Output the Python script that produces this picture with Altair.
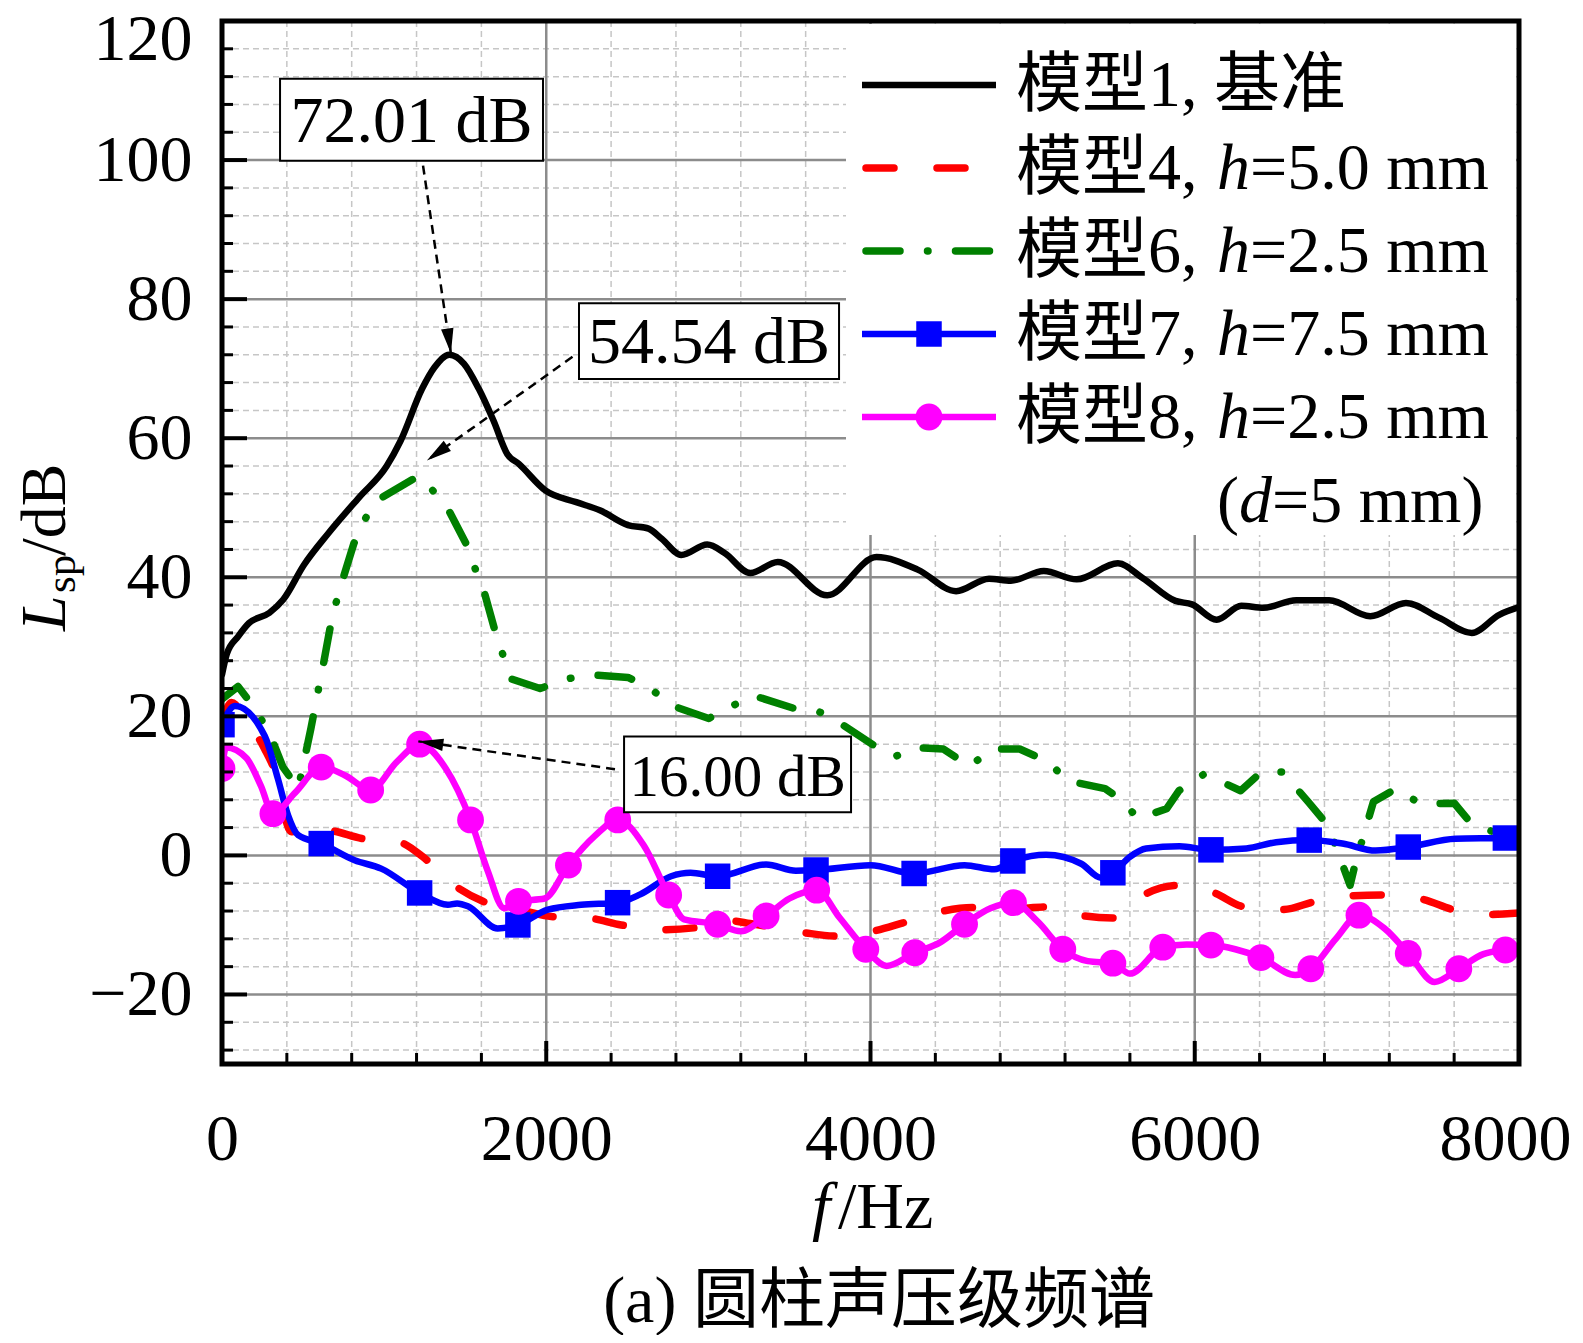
"""Cylinder sound pressure level spectra, rebuilt with Altair."""

import math

import altair as alt
import pandas as pd

# ---- values ---------------------------------------------------------------
# model 1 (baseline), black solid
freq_m1 = [0, 30, 100, 166, 293, 378, 506, 655, 846, 1016,
           1101, 1234, 1311, 1402, 1493, 1584, 1675, 1760, 1831, 1994,
           2185, 2334, 2504, 2631, 2714, 2833, 2993, 3100, 3259, 3428,
           3733, 4037, 4291, 4528, 4731, 4866, 5069, 5272, 5526, 5678,
           5881, 5983, 6135, 6287, 6423, 6626, 6829, 7083, 7303, 7506,
           7709, 7878, 8000]
spl_m1 = [26.0, 29.0, 31.5, 33.4, 34.9, 36.8, 41.8, 46.3, 51.5, 56.0,
          59.6, 67.1, 70.2, 72.0, 70.7, 67.1, 62.5, 57.7, 56.3, 52.5,
          50.8, 49.6, 47.5, 47.0, 45.5, 43.2, 44.7, 43.5, 40.6, 42.2,
          37.4, 42.9, 41.1, 38.0, 39.8, 39.5, 40.9, 39.7, 42.0, 39.9,
          36.6, 36.1, 33.9, 35.9, 35.6, 36.7, 36.7, 34.4, 36.3, 34.2,
          32.0, 34.6, 35.7]

# model 4, red dashed
freq_m4 = [0, 58, 150, 263, 325, 427, 520, 664, 869, 1081,
           1239, 1404, 1609, 1886, 2030, 2256, 2462, 2698, 2919, 3134,
           3257, 3586, 3791, 4016, 4201, 4447, 4632, 4850, 5100, 5290,
           5495, 5700, 5906, 6111, 6306, 6541, 6747, 6972, 7198, 7403,
           7609, 7834, 8000]
spl_m4 = [19.0, 22.0, 19.5, 15.3, 12.2, 3.4, 3.8, 3.6, 2.4, 2.0,
          -0.2, -3.8, -6.6, -8.1, -8.8, -9.0, -10.0, -10.7, -10.4, -9.4,
          -9.8, -11.1, -11.6, -10.9, -9.7, -8.0, -7.5, -7.7, -7.4, -8.6,
          -9.0, -5.5, -4.3, -5.3, -7.4, -7.8, -6.6, -5.8, -5.7, -6.3,
          -7.9, -8.5, -8.3]

# model 6, green dash-dot
freq_m6 = [0, 99, 201, 294, 376, 470, 548, 591, 623, 665,
           697, 750, 814, 878, 952, 1186, 1228, 1292, 1399, 1515,
           1568, 1622, 1685, 1739, 1781, 1962, 2110, 2270, 2504, 2642,
           2780, 3003, 3131, 3277, 3534, 3688, 3807, 4016, 4150, 4280,
           4450, 4610, 4750, 4920, 5103, 5206, 5447, 5553, 5649, 5826,
           5903, 6058, 6283, 6411, 6540, 6700, 6797, 6861, 6958, 6990,
           7102, 7241, 7392, 7601, 7697, 7900, 8000]
spl_m6 = [22.5, 24.3, 21.2, 17.5, 12.7, 9.6, 18.2, 23.4, 27.2, 32.5,
          35.8, 40.1, 44.9, 48.2, 51.0, 54.2, 54.5, 52.7, 49.6, 44.4,
          40.8, 37.5, 32.2, 28.4, 25.4, 24.0, 25.3, 26.0, 25.6, 24.0,
          21.5, 19.7, 21.3, 23.0, 21.1, 20.6, 19.1, 15.9, 14.2, 15.5,
          15.3, 12.8, 15.3, 15.3, 13.4, 10.8, 9.6, 7.9, 5.3, 6.7,
          9.3, 11.7, 9.3, 12.0, 12.0, 7.7, 5.0, 1.9, -4.3, -1.2,
          7.7, 9.6, 7.4, 7.5, 4.8, 2.8, 2.3]

# model 7, blue with squares
freq_m7 = [0, 80, 263, 345, 407, 470, 612, 818, 982, 1219,
           1393, 1450, 1517, 1700, 1825, 2010, 2215, 2440, 2580, 2770,
           2890, 3057, 3356, 3540, 3664, 4000, 4269, 4580, 4765, 4878,
           5083, 5300, 5420, 5495, 5600, 5700, 5906, 6100, 6318, 6502,
           6706, 6911, 7116, 7317, 7609, 7916, 8000]
spl_m7 = [18.8, 21.5, 17.2, 11.0, 5.8, 2.9, 1.7, -0.7, -1.9, -5.4,
          -7.1, -6.9, -7.3, -10.5, -10.0, -7.8, -7.1, -6.8, -5.6, -3.0,
          -2.5, -3.0, -1.3, -2.2, -2.1, -1.4, -2.6, -1.4, -2.0, -0.8,
          0.1, -1.2, -3.2, -2.5, -0.2, 1.0, 1.3, 0.8, 1.0, 1.9,
          2.2, 1.7, 0.7, 1.2, 2.4, 2.5, 2.6]
mark_f_m7 = [0, 612, 1219, 1825, 2440, 3057, 3664, 4269, 4878, 5495,
             6100, 6706, 7317, 7916]
mark_l_m7 = [18.8, 1.7, -5.4, -10.0, -6.8, -3.0, -2.1, -2.6, -0.8, -2.5,
             0.8, 2.2, 1.2, 2.5]

# model 8, magenta with circles
freq_m8 = [0, 25, 150, 240, 314, 450, 612, 760, 917, 1080,
           1219, 1380, 1533, 1640, 1740, 1829, 1990, 2137, 2300, 2441,
           2600, 2755, 2850, 3057, 3200, 3356, 3500, 3668, 3811, 3971,
           4100, 4273, 4430, 4580, 4740, 4882, 5030, 5186, 5340, 5495,
           5600, 5803, 5950, 6100, 6250, 6408, 6620, 6716, 6870, 7013,
           7170, 7317, 7480, 7629, 7780, 7916, 8000]
spl_m8 = [12.5, 15.5, 14.0, 10.0, 6.0, 9.0, 12.7, 11.5, 9.4, 13.5,
          16.0, 12.5, 5.1, -2.3, -7.6, -6.6, -6.2, -1.4, 2.8, 5.1,
          1.5, -5.7, -9.2, -9.9, -10.9, -8.7, -6.2, -5.0, -9.0, -13.5,
          -15.9, -14.0, -12.5, -9.9, -7.6, -6.8, -9.5, -13.5, -15.2, -15.5,
          -17.0, -13.2, -12.8, -12.9, -13.5, -14.7, -17.2, -16.3, -12.0, -8.6,
          -10.5, -14.1, -18.2, -16.3, -14.2, -13.6, -13.4]
mark_f_m8 = [0, 314, 612, 917, 1219, 1533, 1829, 2137, 2441, 2755,
             3057, 3356, 3668, 3971, 4273, 4580, 4882, 5186, 5495, 5803,
             6100, 6408, 6716, 7013, 7317, 7629, 7916]
mark_l_m8 = [12.5, 6.0, 12.7, 9.4, 16.0, 5.1, -6.6, -1.4, 5.1, -5.7,
             -9.9, -8.7, -5.0, -13.5, -14.0, -9.9, -6.8, -13.5, -15.5, -13.2,
             -12.9, -14.7, -16.3, -8.6, -14.1, -16.3, -13.6]

# tick labels / text
x_ticks = [0, 2000, 4000, 6000, 8000]
y_ticks = [-20, 0, 20, 40, 60, 80, 100, 120]
legend_prefix = ['模型1, 基准', '模型4,', '模型6,', '模型7,', '模型8,']
legend_suffix = ['', '=5.0 mm', '=2.5 mm', '=7.5 mm', '=2.5 mm']
peak_labels = ['72.01 dB', '54.54 dB', '16.00 dB']
caption = '(a) 圆柱声压级频谱'

# ---- layout ---------------------------------------------------------------
W, H = 1297, 1043
F_DOM = [0, 8000]
L_DOM = [-30, 120]
SERIF = 'Liberation Serif, Noto Sans CJK SC'
FS = 66

xs = alt.Scale(domain=F_DOM, nice=False, zero=False)
ys = alt.Scale(domain=L_DOM, nice=False, zero=False)

# the end labels are nudged inwards so they stay inside the page
x_axis = alt.Axis(values=x_ticks, format='d', title=None, grid=False,
                  ticks=False, tickSize=0, domain=False, labelFont=SERIF,
                  labelFontSize=FS, labelColor='black', labelPadding=43,
                  labelFlush=False, labelOverlap=False,
                  labelOffset={'condition': {'test': 'datum.value === 8000',
                                             'value': -14}, 'value': 0})
y_axis = alt.Axis(values=y_ticks, format='d', title=None, grid=False,
                  ticks=False, tickSize=0, domain=False, labelFont=SERIF,
                  labelFontSize=FS, labelColor='black', labelPadding=30,
                  labelFlush=False, labelOverlap=False,
                  labelOffset={'condition': {'test': 'datum.value === 120',
                                             'value': 18}, 'value': 0})

# callout boxes (f1, f2, L1, L2), arrows (start f, L -> tip f, L), font size
callout_box = [(358, 1980, 99.9, 111.7),
               (2202, 3806, 68.5, 79.4),
               (2480, 3880, 6.2, 17.1)]
callout_arrow = [(1240, 99.2, 1412, 72.2),
                 (2162, 71.7, 1264, 56.8),
                 (2424, 12.4, 1211, 16.4)]
callout_size = [66, 66, 59]
ARROW = 'M0,0L-0.5,2L0.5,2Z'


def one_row():
    return pd.DataFrame({'k': [0]})


def fx(field='f', **kw):
    return alt.X(f'{field}:Q', scale=xs, axis=x_axis, **kw)


def fy(field='L', **kw):
    return alt.Y(f'{field}:Q', scale=ys, axis=y_axis, **kw)


def label(txt, x, y, size=FS, style='normal', align='left', angle=0):
    return alt.Chart(one_row()).mark_text(
        text=txt, font=SERIF, fontSize=size, fontStyle=style, color='black',
        align=align, baseline='alphabetic', angle=angle
    ).encode(x=alt.value(x), y=alt.value(y))


def series(f, L, color, width, dash=None, interp='monotone'):
    kw = dict(color=color, strokeWidth=width, interpolate=interp, clip=True,
              strokeCap='round', strokeJoin='round')
    if dash:
        kw['strokeDash'] = dash
    df = pd.DataFrame({'f': f, 'L': L})
    return alt.Chart(df).mark_line(**kw).encode(x=fx(), y=fy())


def markers(f, L, color, shape, size):
    df = pd.DataFrame({'f': f, 'L': L})
    return alt.Chart(df).mark_point(
        shape=shape, filled=True, size=size, color=color, opacity=1,
        strokeWidth=0, clip=True
    ).encode(x=fx(), y=fy())


minor_f = [v for v in range(400, 8000, 400) if v % 2000]
minor_l = [v for v in range(-28, 120, 4) if v % 20]
major_f = [2000, 4000, 6000]
major_l = [-20, 0, 20, 40, 60, 80, 100]

grid_minor_x = alt.Chart(pd.DataFrame({'f': minor_f})).mark_rule(
    color='#c6c6c6', strokeWidth=1.5, strokeDash=[6, 4]).encode(x=fx())
grid_minor_y = alt.Chart(pd.DataFrame({'L': minor_l})).mark_rule(
    color='#c6c6c6', strokeWidth=1.5, strokeDash=[6, 4]).encode(y=fy())
grid_major_x = alt.Chart(pd.DataFrame({'f': major_f})).mark_rule(
    color='#8c8c8c', strokeWidth=2.5).encode(x=fx())
grid_major_y = alt.Chart(pd.DataFrame({'L': major_l})).mark_rule(
    color='#8c8c8c', strokeWidth=2.5).encode(y=fy())

legend_bg = alt.Chart(one_row()).mark_rect(fill='white').encode(
    x=alt.value(624), x2=alt.value(W - 3), y=alt.value(3), y2=alt.value(514))

# inward ticks
tick_y_major = alt.Chart(pd.DataFrame({'L': major_l})).mark_rule(
    color='black', strokeWidth=4).encode(y=fy(), x=alt.value(0), x2=alt.value(25))
tick_y_minor = alt.Chart(pd.DataFrame({'L': minor_l})).mark_rule(
    color='black', strokeWidth=3).encode(y=fy(), x=alt.value(0), x2=alt.value(11))
tick_x_major = alt.Chart(pd.DataFrame({'f': major_f})).mark_rule(
    color='black', strokeWidth=4).encode(x=fx(), y=alt.value(H), y2=alt.value(H - 23))
tick_x_minor = alt.Chart(pd.DataFrame({'f': minor_f})).mark_rule(
    color='black', strokeWidth=3).encode(x=fx(), y=alt.value(H), y2=alt.value(H - 11))

frame = alt.Chart(one_row()).mark_rect(
    fillOpacity=0, stroke='black', strokeWidth=5).encode(
    x=alt.value(0), x2=alt.value(W), y=alt.value(0), y2=alt.value(H))

# callouts
px_f = W / (F_DOM[1] - F_DOM[0])
px_l = H / (L_DOM[1] - L_DOM[0])
rows = []
for text, box, arr, size in zip(peak_labels, callout_box, callout_arrow,
                                callout_size):
    fs, ls, ft, lt = arr
    sx = (ft - fs) * px_f
    sy = -(lt - ls) * px_l
    ang = math.degrees(math.atan2(sx, -sy)) % 360
    rows.append(dict(label=text, size=size,
                     f1=box[0], f2=box[1], L1=box[2], L2=box[3],
                     fc=(box[0] + box[1]) / 2, lc=(box[2] + box[3]) / 2,
                     fs=fs, ls=ls, ft=ft, lt=lt, ang=ang))
ann = pd.DataFrame(rows)

arrow_line = alt.Chart(ann).mark_rule(
    color='black', strokeWidth=2.5, strokeDash=[9, 6]).encode(
    x=fx('fs'), y=fy('ls'), x2='ft:Q', y2='lt:Q')
arrow_head = alt.Chart(ann).mark_point(
    shape=ARROW, filled=True, size=625, color='black', opacity=1,
    strokeWidth=0).encode(
    x=fx('ft'), y=fy('lt'), angle=alt.Angle('ang:Q', scale=None))
box = alt.Chart(ann).mark_rect(
    fill='white', stroke='black', strokeWidth=2).encode(
    x=fx('f1'), x2='f2:Q', y=fy('L1'), y2='L2:Q')
box_text = alt.Chart(ann).mark_text(
    font=SERIF, color='black', align='center',
    baseline='alphabetic', dy=22).encode(
    x=fx('fc'), y=fy('lc'), text='label:N',
    size=alt.Size('size:Q', scale=None, legend=None))

# legend
row_y = [64, 147, 230, 313, 396]
LX0, LX1, LXM, TX, HX, SX = 640, 774, 707, 794, 995, 1028
leg = []
leg.append(alt.Chart(one_row()).mark_rule(color='black', strokeWidth=6.5).encode(
    x=alt.value(LX0), x2=alt.value(LX1), y=alt.value(row_y[0])))
leg.append(alt.Chart(one_row()).mark_rule(
    color='#ff0000', strokeWidth=7.5, strokeDash=[28, 43], strokeCap='round').encode(
    x=alt.value(LX0 + 4), x2=alt.value(LX1), y=alt.value(row_y[1])))
leg.append(alt.Chart(one_row()).mark_rule(
    color='#008000', strokeWidth=7.5, strokeDash=[34, 27.5, 0.5, 27.5],
    strokeCap='round').encode(
    x=alt.value(LX0 + 4), x2=alt.value(LX1 - 3), y=alt.value(row_y[2])))
leg.append(alt.Chart(one_row()).mark_rule(color='#0000ff', strokeWidth=6.5).encode(
    x=alt.value(LX0), x2=alt.value(LX1), y=alt.value(row_y[3])))
leg.append(alt.Chart(one_row()).mark_point(
    shape='square', filled=True, size=650, color='#0000ff', opacity=1).encode(
    x=alt.value(LXM), y=alt.value(row_y[3])))
leg.append(alt.Chart(one_row()).mark_rule(color='#ff00ff', strokeWidth=6.5).encode(
    x=alt.value(LX0), x2=alt.value(LX1), y=alt.value(row_y[4])))
leg.append(alt.Chart(one_row()).mark_point(
    shape='circle', filled=True, size=720, color='#ff00ff', opacity=1).encode(
    x=alt.value(LXM), y=alt.value(row_y[4])))
for i, (pre, suf) in enumerate(zip(legend_prefix, legend_suffix)):
    base = row_y[i] + 21
    leg.append(label(pre, TX, base))
    if suf:
        leg.append(label('h', HX, base, style='italic'))
        leg.append(label(suf, SX, base))
leg.append(label('(', HX, 501))
leg.append(label('d', HX + 22, 501, style='italic'))
leg.append(label('=5 mm)', HX + 55, 501))

# axis titles and caption
titles = [
    label('L', -157, 610, size=64, style='italic', angle=270),
    label('sp', -147, 572, size=43, angle=270),
    label('/dB', -157, 535, size=64, angle=270),
    label('f', 590, 1207, style='italic'),
    label('/Hz', 616, 1207),
    label(caption, 657, 1301, align='center'),
]

layers = [grid_minor_x, grid_minor_y, grid_major_x, grid_major_y, legend_bg,
          series(freq_m1, spl_m1, 'black', 6.5),
          series(freq_m4, spl_m4, '#ff0000', 7.5, dash=[28, 43]),
          series(freq_m6, spl_m6, '#008000', 7.5, dash=[34, 27.5, 0.5, 27.5],
                 interp='linear'),
          series(freq_m7, spl_m7, '#0000ff', 6.5),
          markers(mark_f_m7, mark_l_m7, '#0000ff', 'square', 650),
          series(freq_m8, spl_m8, '#ff00ff', 6.5),
          markers(mark_f_m8, mark_l_m8, '#ff00ff', 'circle', 720),
          arrow_line, arrow_head, box, box_text,
          tick_y_major, tick_y_minor, tick_x_major, tick_x_minor, frame]
layers += leg + titles

chart = alt.layer(*layers).properties(
    width=W, height=H,
    autosize=alt.AutoSizeParams(type='none'),
    padding={'left': 214, 'top': 13, 'right': 56, 'bottom': 271},
    background='white',
).configure_view(stroke=None)

chart.save('out.html', embed_options={'renderer': 'svg', 'actions': False})
